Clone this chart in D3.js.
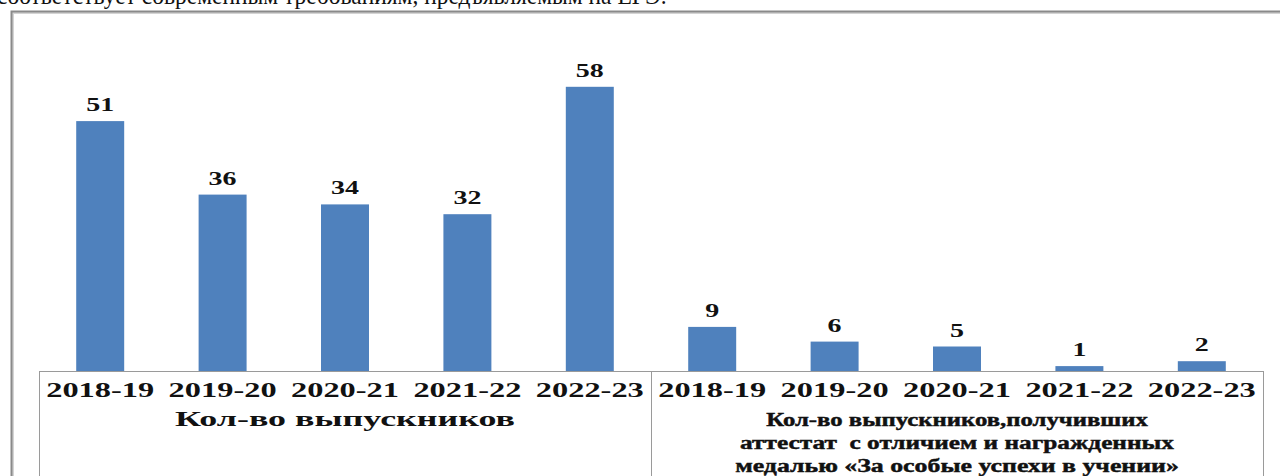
<!DOCTYPE html>
<meta charset="utf-8" />
<html lang="ru">
<head>
    <meta charset="utf-8" />
    <title></title>
    <script src="https://d3js.org/d3.v7.min.js"></script>
</head>
<style>
    body { margin: 0; background: #fff; overflow: hidden; }
    text { font-family: "Times New Roman", "Liberation Serif", Times, serif; fill: #111; }
</style>
<body>
<script>
    // data
    const years = ["2018-19", "2019-20", "2020-21", "2021-22", "2022-23"];
    const groupNames = [
        ["Кол-во выпускников"],
        ["Кол-во выпускников,получивших", "аттестат  с отличием и награжденных", "медалью «За особые успехи в учении»"]
    ];
    const graduates = [51, 36, 34, 32, 58];
    const honours = [9, 6, 5, 1, 2];
    const topLine = "соответствует современным требованиям, предъявляемым на ЕГЭ.";

    const W = 1280, H = 476,
        left = 39, right = 1263, base = 371;

    const rows = [];
    [graduates, honours].forEach(function (vals, g) {
        vals.forEach(function (v, i) { rows.push({ key: g + "|" + years[i], year: years[i], group: g, value: v }); });
    });

    const svg = d3.select("body").append("svg")
        .attr("width", W).attr("height", H);

    // the picture is stretched sideways: fit a text to its measured width
    function stretch(sel, cx, cy, target) {
        sel.each(function () {
            const k = target / this.getComputedTextLength();
            d3.select(this).attr("transform", "translate(" + cx + "," + cy + ") scale(" + k + ",1)");
        });
    }
    const stretchK = function (sel, k) {
        sel.attr("transform", function () {
            return d3.select(this).attr("data-pos") + " scale(" + k + ",1)";
        });
    };

    // page text cut off at the top
    svg.append("text")
        .attr("font-size", 26)
        .text(topLine)
        .call(stretch, -3, 4, 670);

    // frame with a soft shadow
    svg.append("rect")
        .attr("x", 13).attr("y", 13).attr("width", 1320).attr("height", 520)
        .attr("fill", "none").attr("stroke", "#d4d4d4").attr("stroke-width", 2);
    svg.append("rect")
        .attr("x", 11.5).attr("y", 11.5).attr("width", 1320).attr("height", 520)
        .attr("fill", "none").attr("stroke", "#8a8a8a").attr("stroke-width", 2);

    const x = d3.scaleBand()
        .domain(rows.map(d => d.key))
        .range([left, right])
        .paddingInner(0.608)
        .paddingOuter(0.304);

    const y = d3.scaleLinear().domain([0, 70]).range([base, base - 70 * 4.9]);

    // bars
    svg.selectAll("rect.bar")
        .data(rows)
        .enter().append("rect")
        .attr("class", "bar")
        .attr("x", d => x(d.key))
        .attr("width", x.bandwidth())
        .attr("y", d => y(d.value))
        .attr("height", d => y(0) - y(d.value))
        .attr("fill", "#4f81bd");

    // year tick labels - measure one to get the sideways stretch
    const ticks = svg.selectAll("text.tick")
        .data(rows)
        .enter().append("text")
        .attr("class", "tick")
        .attr("text-anchor", "middle")
        .attr("font-size", 22)
        .attr("font-weight", "bold")
        .attr("data-pos", d => "translate(" + (x(d.key) + x.bandwidth() / 2) + ",397)")
        .text(d => d.year);
    const sx = 108 / ticks.node().getComputedTextLength();
    stretchK(ticks, sx);

    // value labels
    const vals = svg.selectAll("text.val")
        .data(rows)
        .enter().append("text")
        .attr("class", "val")
        .attr("text-anchor", "middle")
        .attr("font-size", 19)
        .attr("font-weight", "bold")
        .attr("data-pos", d => "translate(" + (x(d.key) + x.bandwidth() / 2) + "," + (y(d.value) - 10) + ")")
        .text(d => d.value);
    stretchK(vals, sx);

    // category axis lines
    const lineColor = "#9a9a9a";
    svg.append("line")
        .attr("x1", left).attr("x2", right).attr("y1", base + 0.5).attr("y2", base + 0.5)
        .attr("stroke", lineColor);
    const splits = [left, x(rows[5].key) - x.step() * x.paddingInner() / 2, right];
    svg.selectAll("line.split")
        .data(splits)
        .enter().append("line")
        .attr("class", "split")
        .attr("x1", d => Math.round(d) + 0.5).attr("x2", d => Math.round(d) + 0.5)
        .attr("y1", base).attr("y2", H)
        .attr("stroke", lineColor);

    // group labels
    const groupWidths = [[340], [382, 434, 444]];
    const groupSize = [21, 19];
    groupNames.forEach(function (lines, g) {
        const cx = (splits[g] + splits[g + 1]) / 2;
        lines.forEach(function (line, i) {
            svg.append("text")
                .attr("class", "group")
                .attr("text-anchor", "middle")
                .attr("font-size", groupSize[g])
                .attr("font-weight", "bold")
                .attr("stroke", g === 1 ? "#111" : "none")
                .attr("stroke-width", 0.45)
                .style("white-space", "pre")
                .text(line)
                .call(stretch, cx, 426 + i * 23, groupWidths[g][i]);
        });
    });
</script>
</body>
</html>
